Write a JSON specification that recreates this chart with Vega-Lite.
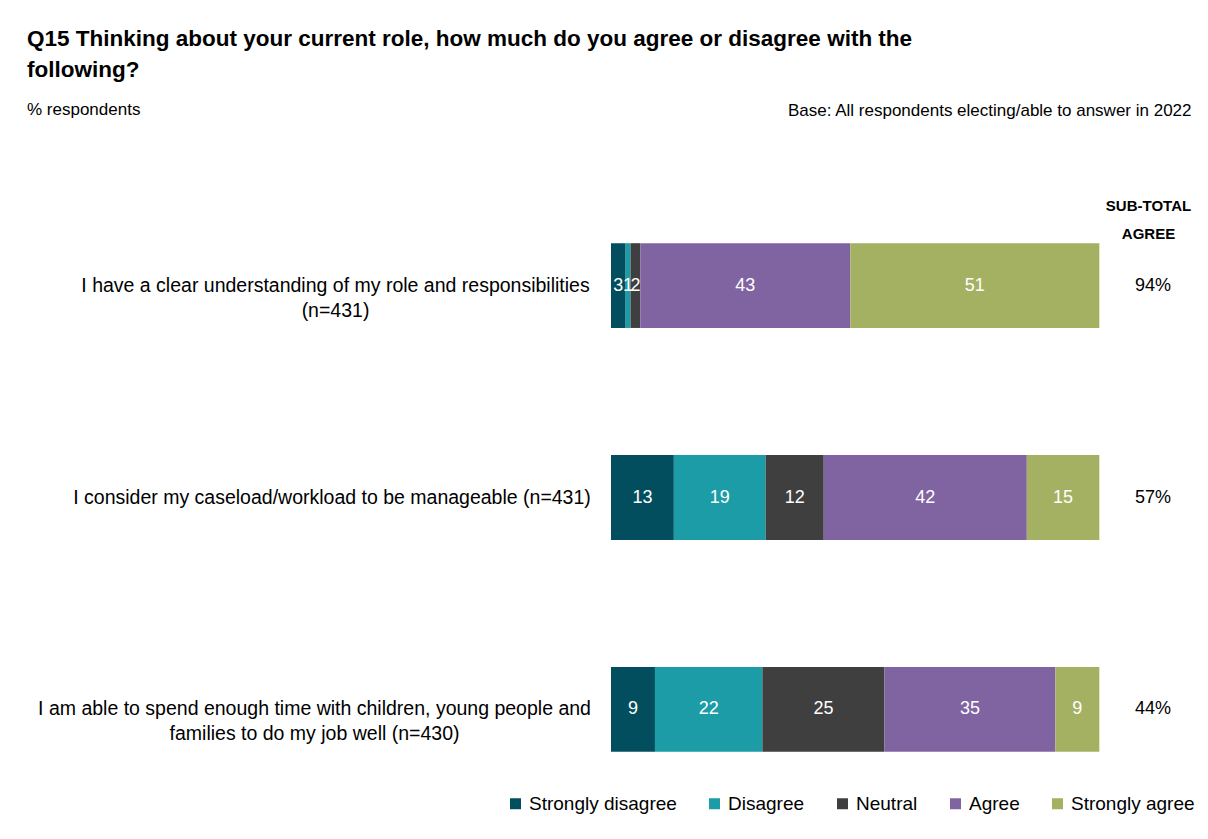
{
  "$schema": "https://vega.github.io/schema/vega-lite/v6.json",
  "width": 586,
  "height": 551,
  "autosize": {"type": "none"},
  "padding": {"left": 611, "top": 222, "right": 11, "bottom": 66},
  "background": "white",
  "config": {"font": "Liberation Sans", "view": {"stroke": null}},
  "title": {
    "text": ["Q15 Thinking about your current role, how much do you agree or disagree with the", "following?"],
    "subtitle": "% respondents",
    "anchor": "start",
    "frame": "group",
    "dx": -584,
    "dy": 21,
    "fontSize": 22.5,
    "fontWeight": "bold",
    "lineHeight": 31,
    "color": "black",
    "subtitleFontSize": 17,
    "subtitleColor": "black",
    "subtitlePadding": 21
  },
  "datasets": {
    "resp": [
      {"q": "q1", "r": "Strongly disagree", "v": 3},
      {"q": "q1", "r": "Disagree", "v": 1},
      {"q": "q1", "r": "Neutral", "v": 2},
      {"q": "q1", "r": "Agree", "v": 43},
      {"q": "q1", "r": "Strongly agree", "v": 51},
      {"q": "q2", "r": "Strongly disagree", "v": 13},
      {"q": "q2", "r": "Disagree", "v": 19},
      {"q": "q2", "r": "Neutral", "v": 12},
      {"q": "q2", "r": "Agree", "v": 42},
      {"q": "q2", "r": "Strongly agree", "v": 15},
      {"q": "q3", "r": "Strongly disagree", "v": 9},
      {"q": "q3", "r": "Disagree", "v": 22},
      {"q": "q3", "r": "Neutral", "v": 25},
      {"q": "q3", "r": "Agree", "v": 35},
      {"q": "q3", "r": "Strongly agree", "v": 9}
    ],
    "sub": [
      {"q": "q1", "s": "94%"},
      {"q": "q2", "s": "57%"},
      {"q": "q3", "s": "44%"}
    ]
  },
  "encoding": {
    "y": {
      "field": "q",
      "type": "nominal",
      "sort": null,
      "scale": {"domain": ["q1", "q2", "q3"], "paddingInner": 0.6, "paddingOuter": 0.1},
      "axis": {
        "title": ["SUB-TOTAL", "AGREE"],
        "titleAngle": 0,
        "titleX": 537,
        "titleY": -17,
        "titleAlign": "center",
        "titleBaseline": "middle",
        "titleFontSize": 15,
        "titleFontWeight": "bold",
        "titleLineHeight": 28,
        "titleColor": "black",
        "labelExpr": "datum.value == 'q1' ? ['I have a clear understanding of my role and responsibilities', '(n=431)'] : datum.value == 'q2' ? 'I consider my caseload/workload to be manageable (n=431)' : ['I am able to spend enough time with children, young people and', 'families to do my job well (n=430)']",
        "labelAlign": "center",
        "labelBaseline": "middle",
        "labelPadding": {
          "condition": [
            {"test": "datum.value == 'q2'", "value": 279.5},
            {"test": "datum.value == 'q3'", "value": 297}
          ],
          "value": 276
        },
        "labelFontSize": 19.5,
        "labelLineHeight": 25,
        "labelColor": "black",
        "labelLimit": 1000,
        "ticks": false,
        "domain": false,
        "grid": false
      }
    }
  },
  "layer": [
    {
      "data": {"name": "resp"},
      "transform": [
        {"calculate": "indexof(['Strongly disagree', 'Disagree', 'Neutral', 'Agree', 'Strongly agree'], datum.r)", "as": "k"}
      ],
      "encoding": {
        "x": {
          "field": "v",
          "type": "quantitative",
          "stack": "normalize",
          "scale": {"domain": [0, 1.2]},
          "axis": {
            "orient": "top",
            "labels": false,
            "ticks": false,
            "domain": false,
            "grid": false,
            "title": "Base: All respondents electing/able to answer in 2022",
            "titleX": 580,
            "titleY": -112,
            "titleAlign": "right",
            "titleAnchor": null,
            "titleBaseline": "middle",
            "titleFontSize": 17,
            "titleFontWeight": "normal",
            "titleColor": "black"
          }
        },
        "order": {"field": "k", "type": "quantitative"}
      },
      "layer": [
        {
          "mark": {"type": "bar"},
          "encoding": {
            "color": {
              "field": "r",
              "type": "nominal",
              "sort": ["Strongly disagree", "Disagree", "Neutral", "Agree", "Strongly agree"],
              "scale": {
                "domain": ["Strongly disagree", "Disagree", "Neutral", "Agree", "Strongly agree"],
                "range": ["#034E5E", "#1C9CA7", "#3F3F3F", "#8064A2", "#A4B162"]
              },
              "legend": {
                "orient": "none",
                "legendX": -105,
                "legendY": 572,
                "direction": "horizontal",
                "title": null,
                "symbolType": "square",
                "symbolSize": 121,
                "symbolStrokeWidth": 0,
                "labelFontSize": 19,
                "labelColor": "black",
                "labelOffset": 4,
                "columnPadding": 28,
                "labelLimit": 300
              }
            }
          }
        },
        {
          "mark": {"type": "text", "color": "white", "fontSize": 18},
          "encoding": {
            "x": {"field": "v", "type": "quantitative", "stack": "normalize", "bandPosition": 0.5},
            "text": {"field": "v", "type": "quantitative"}
          }
        }
      ]
    },
    {
      "data": {"name": "sub"},
      "mark": {"type": "text", "fontSize": 18, "color": "black"},
      "encoding": {
        "x": {"datum": 1.11, "type": "quantitative"},
        "text": {"field": "s", "type": "nominal"}
      }
    }
  ]
}
